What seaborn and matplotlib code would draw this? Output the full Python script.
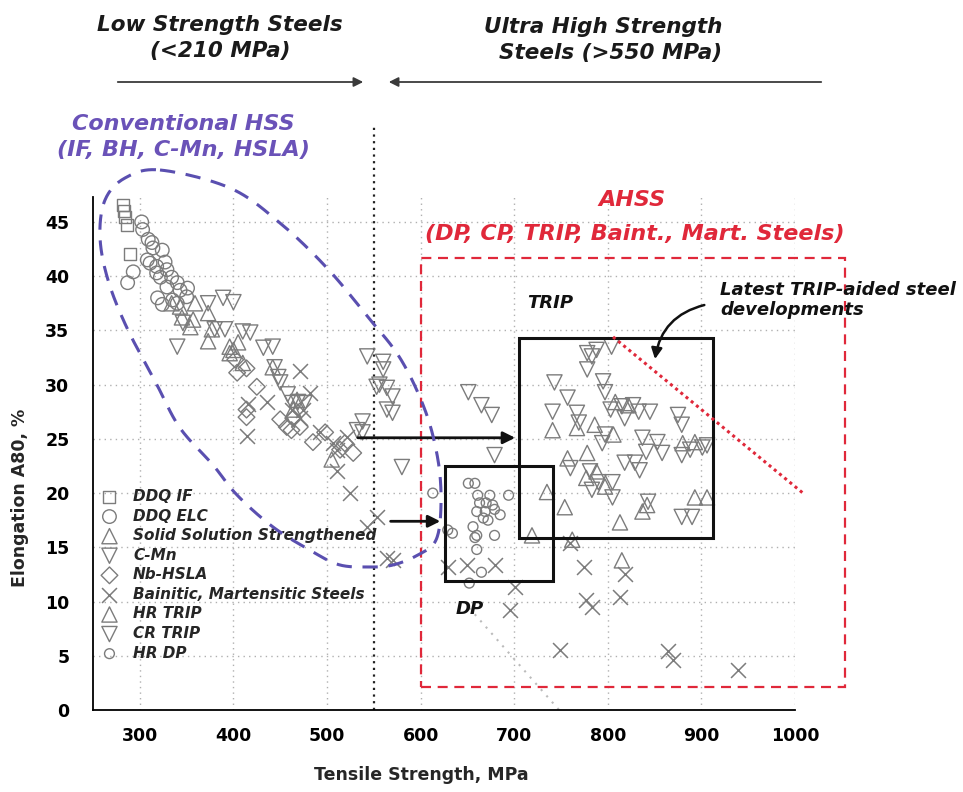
import numpy as np
import pandas as pd
import matplotlib
matplotlib.use("Agg")
import matplotlib.pyplot as plt
import matplotlib.lines as mlines
import matplotlib.patches as mpatches
from matplotlib.font_manager import FontProperties
import seaborn as sns

# ---------------- data (Tensile strength MPa, Elongation A80 %) ----------------
ddq_if_x = [282, 283, 284, 286, 290]
ddq_if_y = [46.6, 46.0, 45.5, 44.7, 42.0]

ddq_elc_x = [302, 303, 309, 313, 314, 324, 308, 311, 318, 327, 329, 293, 287, 318, 322,
             334, 340, 329, 343, 351, 319, 324, 335, 350, 340]
ddq_elc_y = [45.0, 44.3, 43.4, 43.1, 42.6, 42.4, 41.5, 41.2, 40.9, 41.3, 40.6, 40.4, 39.4, 40.3, 39.9,
             39.9, 39.4, 39.0, 38.7, 38.9, 38.0, 37.4, 37.8, 38.1, 37.5]

sss_x = [334, 345, 357, 373, 373, 377, 354, 343, 359, 396, 400, 405, 396, 442, 468, 464, 505, 410]
sss_y = [37.5, 36.2, 36.0, 36.6, 34.0, 35.1, 35.3, 37.2, 37.5, 33.5, 33.2, 33.9, 32.9, 31.6, 28.6, 27.7, 23.1, 32.0]

cmn_x = [340, 389, 373, 410, 418, 432, 346, 380, 391, 442, 444, 448, 458, 463, 469, 476, 450,
         543, 560, 560, 556, 553, 564, 570, 564, 570, 538, 532, 580, 538, 400]
cmn_y = [33.5, 38.0, 37.5, 34.9, 34.8, 33.4, 35.7, 35.1, 35.1, 33.5, 31.6, 30.7, 29.1, 28.3, 28.4, 28.3, 30.2,
         32.6, 32.1, 31.4, 30.0, 29.8, 29.7, 28.9, 27.7, 27.4, 26.6, 25.8, 22.4, 25.6, 37.6]

nb_x = [404, 414, 425, 414, 414, 450, 457, 462, 471, 485, 498, 514, 528, 519, 402, 464]
nb_y = [31.1, 31.5, 29.8, 27.7, 27.0, 26.8, 26.1, 25.8, 26.1, 24.7, 25.6, 24.0, 23.7, 24.6, 32.3, 26.9]

bm_x = [471, 436, 416, 414, 482, 474, 471, 463, 493, 506, 521, 511, 511, 525, 543, 553, 570, 564,
        629, 650, 679, 701, 695, 775, 777, 813, 818, 760, 783, 749, 864, 870, 939]
bm_y = [31.3, 28.4, 28.2, 25.3, 29.2, 27.7, 26.9, 27.7, 25.6, 24.6, 25.2, 24.0, 22.0, 20.0, 16.9, 17.8, 13.8, 14.0,
        13.2, 13.4, 13.4, 11.3, 9.2, 13.2, 10.1, 10.4, 12.5, 15.4, 9.5, 5.5, 5.4, 4.6, 3.7]

hrtrip_x = [741, 757, 778, 788, 777, 797, 806, 808, 822, 786, 880, 893, 842, 837, 893, 906, 735, 754,
            719, 813, 762, 815, 767]
hrtrip_y = [25.8, 23.2, 23.7, 22.0, 21.4, 20.6, 25.4, 28.4, 28.1, 26.3, 24.6, 24.7, 18.9, 18.3, 19.6, 19.6, 20.1, 18.7,
            16.1, 17.3, 15.7, 13.8, 26.0]

crtrip_x = [778, 788, 783, 804, 778, 743, 795, 797, 757, 741, 767, 769, 803, 815, 827, 833, 845, 818, 875, 879,
            797, 794, 837, 853, 858, 841, 818, 829, 834, 879, 888, 901, 906, 760, 781, 805, 790, 805, 783, 843,
            879, 651, 665, 676, 679, 890]
crtrip_y = [32.9, 33.2, 32.6, 33.5, 31.4, 30.2, 30.3, 29.3, 28.8, 27.5, 27.4, 26.5, 27.7, 28.0, 28.1, 27.5, 27.5, 26.9, 27.2, 26.3,
            25.4, 24.6, 25.1, 24.7, 23.7, 23.8, 22.8, 22.8, 22.1, 23.5, 24.0, 24.2, 24.4, 22.3, 22.0, 21.0, 21.0, 19.6, 20.3, 19.2,
            17.8, 29.3, 28.1, 27.2, 23.5, 17.8]

hrdp_x = [651, 658, 661, 674, 663, 670, 677, 660, 669, 679, 685, 667, 672, 656, 658, 660, 679, 634, 660, 665,
          652, 694, 613, 629]
hrdp_y = [20.9, 20.9, 19.8, 19.8, 19.1, 19.1, 18.9, 18.3, 18.3, 18.5, 18.0, 17.7, 17.5, 16.9, 15.9, 16.1, 16.1, 16.3, 14.8, 12.7,
          11.7, 19.8, 20.0, 16.6]

series_names = ["DDQ IF", "DDQ ELC", "Solid Solution Strengthened", "C-Mn", "Nb-HSLA",
                "Bainitic, Martensitic Steels", "HR TRIP", "CR TRIP", "HR DP"]
series_x = [ddq_if_x, ddq_elc_x, sss_x, cmn_x, nb_x, bm_x, hrtrip_x, crtrip_x, hrdp_x]
series_y = [ddq_if_y, ddq_elc_y, sss_y, cmn_y, nb_y, bm_y, hrtrip_y, crtrip_y, hrdp_y]

x_ticks = [300, 400, 500, 600, 700, 800, 900, 1000]
y_ticks = [0, 5, 10, 15, 20, 25, 30, 35, 40, 45]

# ---------------- styling ----------------
markers = ["s", "o", "^", "v", "D", "x", "^", "v", "o"]
sizes = [75, 95, 120, 120, 72, 115, 120, 120, 50]

sns.set_theme(style="white")
plt.rcParams['font.family'] = ['DejaVu Sans']

W, H = 963, 792
fig = plt.figure(figsize=(W / 100, H / 100), dpi=100)
ax = fig.add_axes([93 / W, 1 - 710 / H, (795 - 93) / W, (710 - 197) / H])


def fp(px, py):
    return (px / W, 1 - py / H)


GRAY = "#7c7c7c"
rows = []
for name, xs, ys in zip(series_names, series_x, series_y):
    for a, b in zip(xs, ys):
        rows.append((name, a, b))
df = pd.DataFrame(rows, columns=["grade", "ts", "el"])

for name, m, s in zip(series_names, markers, sizes):
    sub = df[df["grade"] == name]
    if m == "x":
        sns.scatterplot(data=sub, x="ts", y="el", marker="x", s=s, color=GRAY,
                        linewidth=1.1, ax=ax, label=name, zorder=3)
    else:
        sns.scatterplot(data=sub, x="ts", y="el", marker=m, s=s, color=GRAY,
                        facecolor="none", edgecolor=GRAY, linewidth=1.0,
                        ax=ax, label=name, zorder=3)

ax.set_xlim(250, 1000)
ax.set_ylim(0, 47.3)
ax.set_xticks(x_ticks)
ax.set_xticks(np.arange(250, 1001, 50), minor=True)
ax.set_yticks(y_ticks)
ax.set_yticks(np.arange(0, 47.3, 2.5), minor=True)
ax.set_xticklabels([str(v) for v in x_ticks], fontweight="bold", fontsize=12.5)
ax.set_yticklabels([str(v) for v in y_ticks], fontweight="bold", fontsize=12.5)
ax.tick_params(axis="x", which="major", direction="out", length=4.5, width=1, pad=8, colors="black")
ax.tick_params(axis="x", which="minor", direction="out", length=4.5, width=1, colors="black")
ax.tick_params(axis="y", which="major", direction="out", length=8, width=1, pad=9, colors="black")
ax.tick_params(axis="y", which="minor", direction="out", length=4, width=1, colors="black")
ax.grid(True, which="major", linestyle=(0, (1, 3)), color="#b0b0b0", lw=1)
ax.set_axisbelow(True)
for sp in ["top", "right"]:
    ax.spines[sp].set_visible(False)
for sp in ["left", "bottom"]:
    ax.spines[sp].set_color("black")
    ax.spines[sp].set_linewidth(1.3)
ax.set_xlabel("")
ax.set_ylabel("")

fig.text(*fp(421, 775), "Tensile Strength, MPa", ha="center", va="center",
         fontweight="bold", fontsize=12.5)
fig.text(*fp(20, 498), "Elongation A80, %", ha="center", va="center", rotation=90,
         fontweight="bold", fontsize=12.5)

# legend
leg_font = FontProperties(family="DejaVu Sans", weight="bold", style="italic", size=11)
ax.legend(loc="upper left", bbox_to_anchor=fp(98, 489), bbox_transform=fig.transFigure,
          frameon=False, prop=leg_font, handlelength=1.5, handletextpad=0.8,
          labelspacing=0.3, borderpad=0, borderaxespad=0)

# vertical dotted line at 550 MPa
ax.plot([550, 550], [0, 53.8], ls=(0, (1, 2)), color="#222222", lw=1.6, clip_on=False, zorder=2)

# header texts and arrows
bi = dict(fontweight="bold", fontstyle="italic")
fig.text(*fp(220, 38), "Low Strength Steels\n(<210 MPa)", ha="center", va="center",
         fontsize=15.5, color="#1a1a1a", linespacing=1.4, **bi)
fig.text(*fp(603, 40), "Ultra High Strength\n  Steels (>550 MPa)", ha="center", va="center",
         fontsize=15.5, color="#1a1a1a", linespacing=1.4, **bi)
fig.patches.append(mpatches.FancyArrowPatch(fp(115, 82), fp(366, 82), transform=fig.transFigure,
                                            arrowstyle="-|>", mutation_scale=14, lw=1.3, color="#3a3a3a"))
fig.patches.append(mpatches.FancyArrowPatch(fp(824, 82), fp(386, 82), transform=fig.transFigure,
                                            arrowstyle="-|>", mutation_scale=14, lw=1.3, color="#3a3a3a"))

PURPLE = "#6a52b8"
fig.text(*fp(183, 137), "Conventional HSS\n(IF, BH, C-Mn, HSLA)", ha="center", va="center",
         fontsize=16, color=PURPLE, linespacing=1.32, **bi)


# purple dashed "ellipse"
def closed_spline(pts, n=24):
    P = np.asarray(pts, float)
    N = len(P)
    t = np.linspace(0, 1, n, endpoint=False)[:, None]
    out = []
    for i in range(N):
        p0, p1, p2, p3 = P[i - 1], P[i], P[(i + 1) % N], P[(i + 2) % N]
        out.append(0.5 * (2 * p1 + (-p0 + p2) * t + (2 * p0 - 5 * p1 + 4 * p2 - p3) * t ** 2
                          + (-p0 + 3 * p1 - 3 * p2 + p3) * t ** 3))
    out.append(P[[0]])
    return np.vstack(out)


ell_px = [(160, 170), (230, 188), (280, 223), (327, 268), (367, 316), (400, 358), (425, 410),
          (438, 460), (441, 505), (436, 540), (418, 555), (393, 565), (370, 567), (340, 565),
          (313, 552), (273, 527), (237, 495), (213, 465), (180, 428), (157, 385), (127, 328),
          (108, 280), (100, 237), (105, 200), (125, 178)]
curve = closed_spline(ell_px)
fig.add_artist(mlines.Line2D(curve[:, 0] / W, 1 - curve[:, 1] / H, transform=fig.transFigure,
                             color="#5a4fb0", lw=2.2, ls=(0, (5, 3.5)), zorder=4))

# AHSS red dashed box and labels
RED = "#e0283a"
ax.add_patch(mpatches.Rectangle((600, 2.1), 453, 39.6, fill=False, ec=RED, lw=1.6,
                                ls=(0, (4.5, 3)), clip_on=False, zorder=4))
fig.text(*fp(632, 200), "AHSS", ha="center", va="center", fontsize=16, color=RED, **bi)
fig.text(*fp(635, 234), "(DP, CP, TRIP, Baint., Mart. Steels)", ha="center", va="center",
         fontsize=16, color=RED, **bi)

# TRIP and DP boxes
ax.add_patch(mpatches.Rectangle((626, 11.9), 115.5, 10.6, fill=False, ec="#111111", lw=2.2, zorder=4))
ax.add_patch(mpatches.Rectangle((705, 15.9), 207, 18.4, fill=False, ec="#111111", lw=2.2, zorder=4))
ax.text(738, 37.5, "TRIP", ha="center", va="center", fontsize=13, color="#111111", **bi)
ax.text(652, 9.3, "DP", ha="center", va="center", fontsize=13, color="#111111", **bi)

# black arrows into the boxes
ax.annotate("", xy=(704, 25.1), xytext=(530, 25.1),
            arrowprops=dict(arrowstyle="-|>", mutation_scale=18, lw=2, color="#111111"), zorder=5)
ax.annotate("", xy=(624, 17.4), xytext=(565, 17.4),
            arrowprops=dict(arrowstyle="-|>", mutation_scale=18, lw=2, color="#111111"), zorder=5)

# red dotted line (latest TRIP developments) and faint gray dotted line
ax.plot([805.6, 1008.5], [34.4, 20.0], ls=(0, (1, 1.2)), color=RED, lw=2.2, clip_on=False, zorder=4)
ax.plot([652, 748], [9.4, 0.0], ls=(0, (1, 3)), color="#bbbbbb", lw=1.5, zorder=2)

fig.text(*fp(720, 300), "Latest TRIP-aided steel\ndevelopments", ha="left", va="center",
         fontsize=13, color="#111111", linespacing=1.15, **bi)
ax.annotate("", xy=(850, 32.1), xytext=(906, 37.4),
            arrowprops=dict(arrowstyle="-|>", mutation_scale=16, lw=1.8, color="#111111",
                            connectionstyle="arc3,rad=0.35"), annotation_clip=False, zorder=5)

fig.savefig("out.png", dpi=100)
